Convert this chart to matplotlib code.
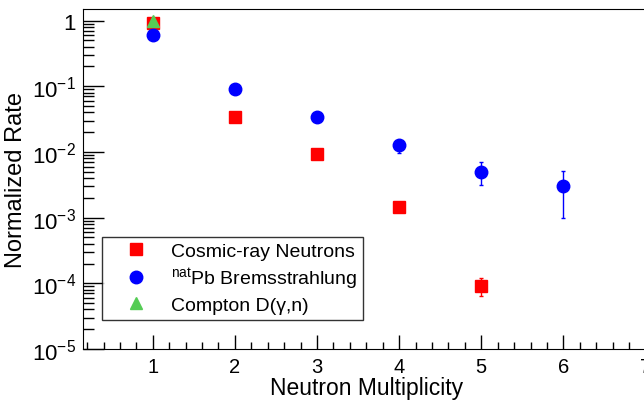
import numpy as np
import matplotlib
matplotlib.use("Agg")
import matplotlib.pyplot as plt
from matplotlib.ticker import FixedLocator, NullFormatter
from matplotlib.lines import Line2D

plt.rcParams['font.family'] = ['Liberation Sans', 'DejaVu Sans']
plt.rcParams['mathtext.fontset'] = 'custom'
plt.rcParams['mathtext.rm'] = 'Liberation Sans'
plt.rcParams['mathtext.it'] = 'Liberation Sans'

# Cosmic-ray neutrons
cosmic_x = [1, 2, 3, 4, 5]
cosmic_y = [0.93, 0.034, 0.0094, 0.00146, 9.1e-5]
cosmic_lo = [0.0, 0.0, 0.0, 0.0, 2.6e-5]
cosmic_hi = [0.0, 0.0, 0.0, 0.0, 2.9e-5]

# natPb bremsstrahlung
brems_x = [1, 2, 3, 4, 5, 6]
brems_y = [0.61, 0.092, 0.034, 0.0129, 0.0050, 0.0030]
brems_lo = [0.0, 0.0, 0.0, 0.0032, 0.0019, 0.0020]
brems_hi = [0.0, 0.0, 0.0, 0.0020, 0.0021, 0.0021]

# Compton D(gamma,n)
compton_x = [1]
compton_y = [1.0]

red = '#ff0000'
blue = '#0000ff'
green = '#55cc55'

fig = plt.figure(figsize=(6.44, 4.02), dpi=100)
ax = fig.add_axes([83 / 644, 52 / 402, 1 - 83 / 644 + 0.01, 340 / 402])

ax.errorbar(cosmic_x, cosmic_y, yerr=[cosmic_lo, cosmic_hi], fmt='s', color=red,
            ms=8.5, elinewidth=1, capsize=1.5, capthick=1, zorder=3)
ax.errorbar(brems_x, brems_y, yerr=[brems_lo, brems_hi], fmt='o', color=blue,
            ms=9, elinewidth=1, capsize=1.5, capthick=1, zorder=4)
ax.plot(compton_x, compton_y, '^', color=green, ms=8.5, ls='none', zorder=5)

ax.set_yscale('log')
ax.set_ylim(1e-5, 1.5)
ax.set_xlim(0.15, 7.06)

ax.set_xticks([1, 2, 3, 4, 5, 6, 7])
ax.xaxis.set_minor_locator(FixedLocator(np.arange(0.2, 7.05, 0.2)))
ax.set_yticks([1, 1e-1, 1e-2, 1e-3, 1e-4, 1e-5])
ax.set_yticklabels(['1', r'$10^{-1}$', r'$10^{-2}$', r'$10^{-3}$', r'$10^{-4}$', r'$10^{-5}$'])
ax.yaxis.set_minor_formatter(NullFormatter())

ax.tick_params(axis='y', which='major', direction='in', length=15, width=1, labelsize=16, pad=5)
ax.tick_params(axis='y', which='minor', direction='in', length=8, width=1)
ax.tick_params(axis='x', which='major', direction='in', length=10, width=1, labelsize=14.5, pad=6)
ax.tick_params(axis='x', which='minor', direction='in', length=5, width=1)

ax.set_xlabel('Neutron Multiplicity', fontsize=16.5, labelpad=0)
ax.set_ylabel('Normalized Rate', fontsize=17)
ax.yaxis.set_label_coords(-0.098, 0.5)

handles = [
    Line2D([], [], marker='s', color=red, ls='none', ms=8.5),
    Line2D([], [], marker='o', color=blue, ls='none', ms=9),
    Line2D([], [], marker='^', color=green, ls='none', ms=8.5),
]
labels = ['Cosmic-ray Neutrons', r'$^{\rm nat}$Pb Bremsstrahlung', 'Compton D(γ,n)']
leg = ax.legend(handles, labels, loc='lower left', bbox_to_anchor=(0.034, 0.085),
                borderaxespad=0, fontsize=14, frameon=True, fancybox=False,
                edgecolor='black', handletextpad=0.35, borderpad=0.3,
                labelspacing=0.28, handlelength=2.9)
leg.get_frame().set_linewidth(1)

fig.savefig('out.png', dpi=100)
